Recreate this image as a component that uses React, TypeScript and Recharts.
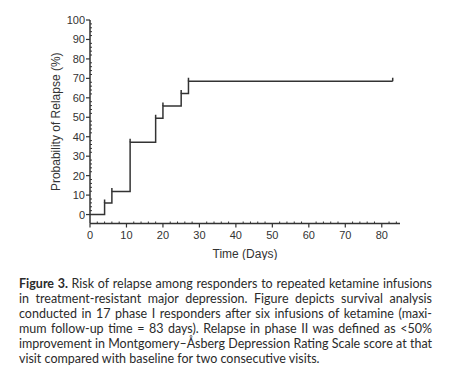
import { ComposedChart, Line, Scatter, XAxis, YAxis, Label } from "recharts";

// Kaplan-Meier steps
const days = [0, 4, 6, 11, 18, 20, 25, 27, 83];
const relapse = [0, 5.9, 11.8, 37.1, 49.5, 55.8, 62.2, 68.5, 68.5];

// censor marks
const censorDays = [4, 6, 11, 18, 20, 25, 27, 83];
const censorRelapse = [5.9, 11.8, 37.1, 49.5, 55.8, 62.2, 68.5, 68.5];

const xTicks = [0, 10, 20, 30, 40, 50, 60, 70, 80];
const yTicks = [0, 10, 20, 30, 40, 50, 60, 70, 80, 90, 100];

const captionLines = [
  "Risk of relapse among responders to repeated ketamine infusions",
  "in treatment-resistant major depression. Figure depicts survival analysis",
  "conducted in 17 phase I responders after six infusions of ketamine (maxi-",
  "mum follow-up time = 83 days). Relapse in phase II was defined as <50%",
  "improvement in Montgomery–Åsberg Depression Rating Scale score at that",
  "visit compared with baseline for two consecutive visits.",
];

const curve = days.map((d, i) => ({ day: d, p: relapse[i] }));
const censored = censorDays.map((d, i) => ({ day: d, p: censorRelapse[i] }));

const INK = "#333";
const AXIS_FONT = "'Liberation Sans', Arial, sans-serif";

// minor ticks every 2 units
const xAll: number[] = [];
for (let v = 0; v <= 84; v += 2) xAll.push(v);
const yAll: number[] = [];
for (let v = 0; v <= 100; v += 2) yAll.push(v);

const XTick = ({ x, y, payload }: any) => {
  const major = xTicks.includes(payload.value);
  return (
    <g>
      {major ? (
        <line x1={x} y1={y} x2={x} y2={y + 4} stroke={INK} strokeWidth={1.2} />
      ) : (
        <line x1={x} y1={y} x2={x} y2={y - 2} stroke={INK} strokeWidth={1} />
      )}
      {major && (
        <text x={x} y={y + 15} textAnchor="middle" fontSize={11} fill={INK} fontFamily={AXIS_FONT}>
          {payload.value}
        </text>
      )}
    </g>
  );
};

const YTick = ({ x, y, payload }: any) => {
  const major = yTicks.includes(payload.value);
  return (
    <g>
      {major ? (
        <line x1={x - 4} y1={y} x2={x} y2={y} stroke={INK} strokeWidth={1.2} />
      ) : (
        <line x1={x} y1={y} x2={x + 2} y2={y} stroke={INK} strokeWidth={1} />
      )}
      {major && (
        <text x={x - 5} y={y + 4} textAnchor="end" fontSize={11} fill={INK} fontFamily={AXIS_FONT}>
          {payload.value}
        </text>
      )}
    </g>
  );
};

const CensorMark = ({ cx, cy }: any) => (
  <line x1={cx} y1={cy} x2={cx} y2={cy - 3.5} stroke={INK} strokeWidth={1.5} />
);

export default function App() {
  return (
    <div style={{ position: "absolute", left: 0, top: 0, width: 457, height: 378, background: "#fff" }}>
      <ComposedChart width={457} height={260} margin={{ top: 20, right: 57, bottom: 0, left: 0 }}>
        <XAxis
          type="number"
          dataKey="day"
          domain={[0, 85]}
          ticks={xAll}
          interval={0}
          tickSize={0}
          tickMargin={0}
          tick={<XTick />}
          tickLine={false}
          height={36.5}
          axisLine={{ stroke: INK, strokeWidth: 1.5 }}
          allowDataOverflow
        >
          <Label value="Time (Days)" position="insideBottom" offset={2} fontSize={12} fill={INK} fontFamily={AXIS_FONT} />
        </XAxis>
        <YAxis
          type="number"
          dataKey="p"
          domain={[-4.6, 100]}
          ticks={yAll}
          interval={0}
          tickSize={0}
          tickMargin={0}
          tick={<YTick />}
          tickLine={false}
          width={90}
          axisLine={{ stroke: INK, strokeWidth: 1.5 }}
          allowDataOverflow
        >
          <Label
            value="Probability of Relapse (%)"
            angle={-90}
            position="insideLeft"
            offset={56}
            fontSize={12}
            fill={INK}
            fontFamily={AXIS_FONT}
            style={{ textAnchor: "middle" }}
          />
        </YAxis>
        <Line
          data={curve}
          dataKey="p"
          type="stepAfter"
          stroke={INK}
          strokeWidth={1.5}
          dot={false}
          isAnimationActive={false}
        />
        <Scatter data={censored} dataKey="p" shape={<CensorMark />} isAnimationActive={false} />
      </ComposedChart>
      <div
        style={{
          position: "absolute",
          left: 19,
          top: 277,
          width: 413,
          fontFamily: "Lato, 'Noto Sans', sans-serif",
          fontSize: 12.5,
          lineHeight: "14.9px",
          color: "#2b2b2b",
        }}
      >
        {captionLines.map((line, i) => (
          <div
            key={i}
            style={{
              whiteSpace: "nowrap",
              textAlign: "justify",
              textAlignLast: i < captionLines.length - 1 ? "justify" : "left",
            }}
          >
            {i === 0 && <b>Figure 3. </b>}
            {line}
          </div>
        ))}
      </div>
    </div>
  );
}
